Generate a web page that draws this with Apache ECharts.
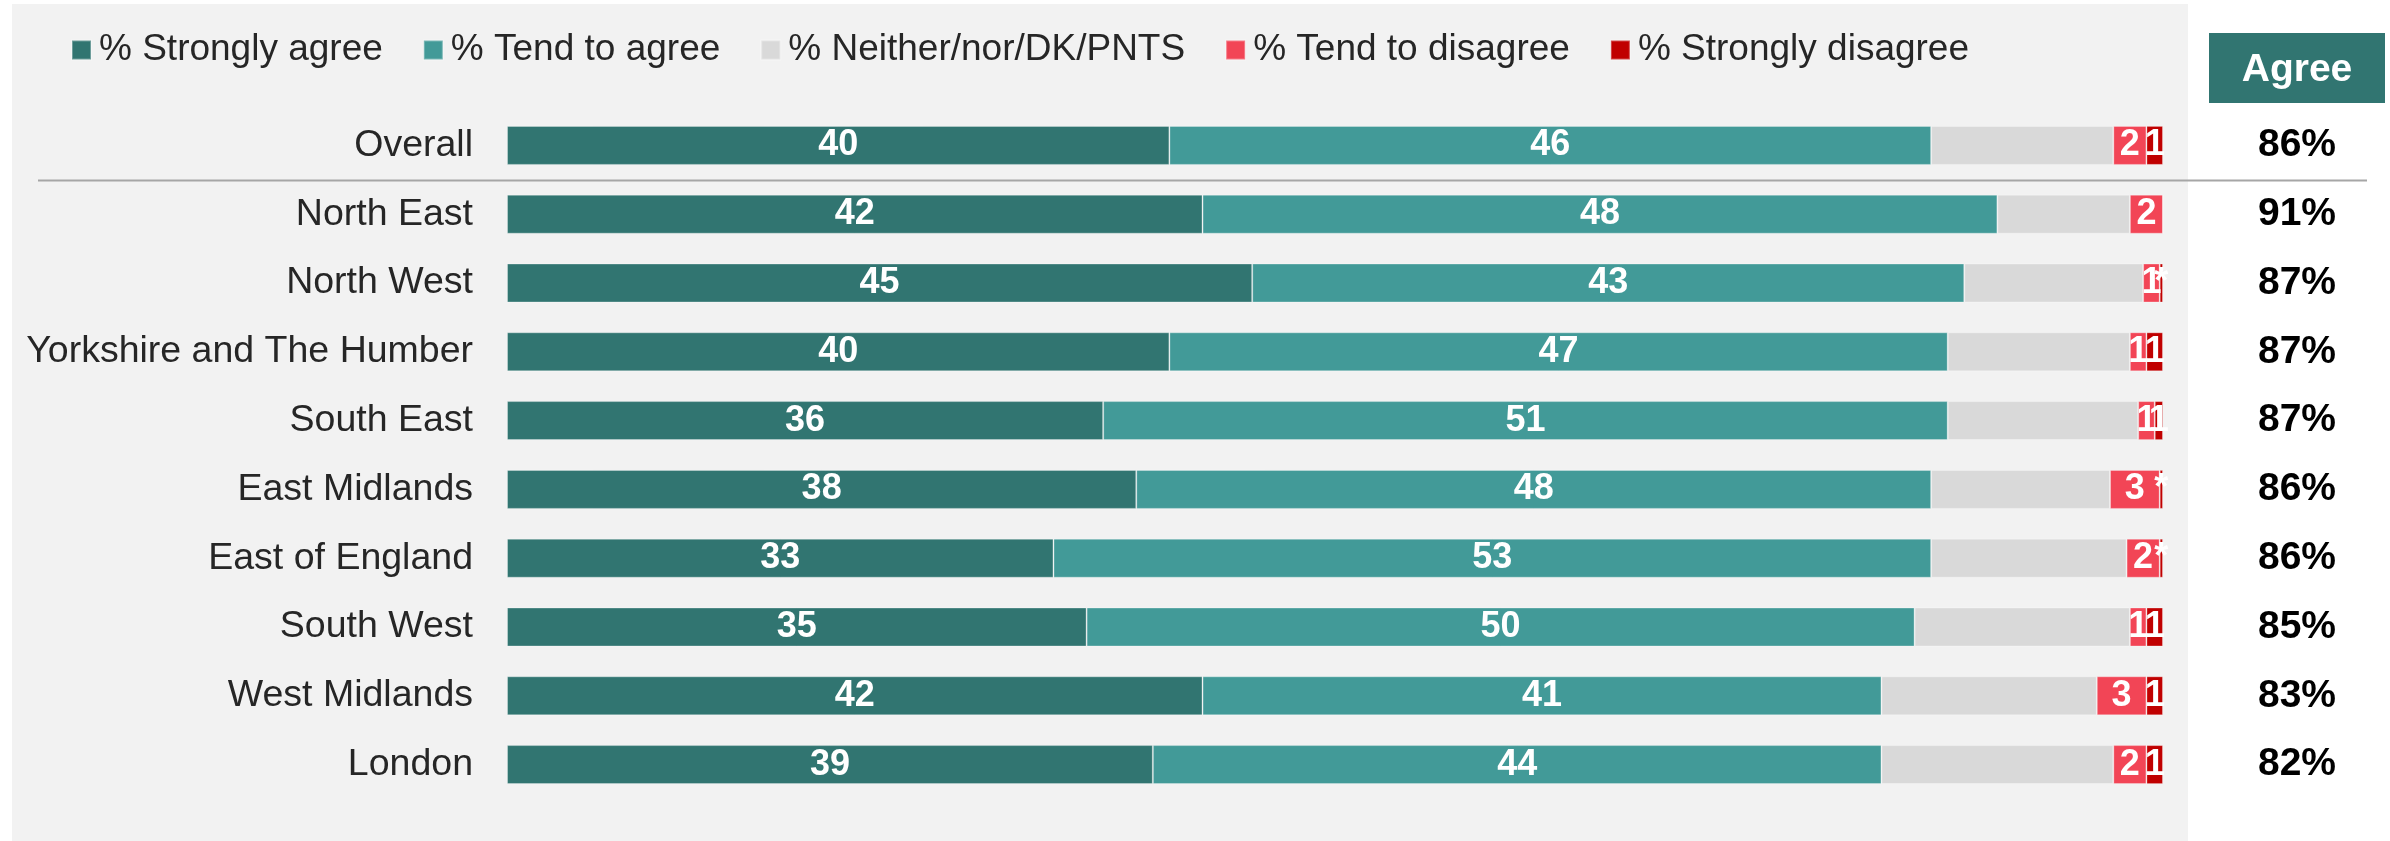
<!DOCTYPE html>
<html>
<head>
<meta charset="utf-8">
<title>Agreement by region</title>
<script src="https://cdn.jsdelivr.net/npm/echarts@6/dist/echarts.min.js"></script>
<style>
  html, body { margin: 0; padding: 0; background: #fff; }
  #chart { width: 2390px; height: 841px; }
</style>
</head>
<body>
<div id="chart"></div>
<script>
// data
const categories = ["Overall", "North East", "North West", "Yorkshire and The Humber", "South East",
  "East Midlands", "East of England", "South West", "West Midlands", "London"];
const stronglyAgree = [40, 42, 45, 40, 36, 38, 33, 35, 42, 39];
const tendToAgree = [46, 48, 43, 47, 51, 48, 53, 50, 41, 44];
const neither = [11, 8, 10.8, 11, 11.5, 10.8, 11.8, 13, 13, 14];
const tendToDisagree = [2, 2, 1, 1, 1, 3, 2, 1, 3, 2];
// values under 0.5 are shown as "*"
const stronglyDisagree = [1, 0, 0.2, 1, 0.5, 0.2, 0.2, 1, 1, 1];
const agreeTotal = [86, 91, 87, 87, 87, 86, 86, 85, 83, 82];

const seriesNames = ["% Strongly agree", "% Tend to agree", "% Neither/nor/DK/PNTS", "% Tend to disagree", "% Strongly disagree"];
const colors = ["#317571", "#429a98", "#d9d9d9", "#f24556", "#c00000"];
const FONT = "'Liberation Sans', Arial, sans-serif";

const chart = echarts.init(document.getElementById("chart"));

function barLabel(show) {
  return {
    show: show,
    position: "inside",
    offset: [0, 2],
    overflow: "none",
    color: "#fff",
    fontFamily: FONT,
    fontSize: 36,
    fontWeight: "bold",
    formatter: function (p) {
      const v = p.value;
      if (!v) return "";
      if (v < 0.5) return "*";
      return Math.round(v);
    }
  };
}

const seriesData = [stronglyAgree, tendToAgree, neither, tendToDisagree, stronglyDisagree];
const series = seriesData.map(function (d, i) {
  return {
    name: seriesNames[i],
    type: "bar",
    stack: "total",
    barWidth: 39,
    data: d,
    itemStyle: { color: colors[i], borderColor: "rgba(255,255,255,0.3)", borderWidth: 1 },
    label: barLabel(i !== 2),
    labelLayout: { hideOverlap: false },
    emphasis: { disabled: true }
  };
});

const option = {
  backgroundColor: "#fff",
  animation: false,
  textStyle: { fontFamily: FONT },
  legend: {
    data: seriesNames,
    left: 71,
    top: 30,
    padding: 0,
    itemWidth: 19,
    itemHeight: 19,
    itemGap: 40,
    icon: "rect",
    textStyle: { fontFamily: FONT, fontSize: 37, color: "#262626", lineHeight: 40, padding: [0, 0, 0, 3] }
  },
  grid: { left: 507, right: 227, top: 111, bottom: 42, containLabel: false },
  xAxis: { type: "value", min: 0, max: 100, show: false },
  yAxis: [
    {
      type: "category",
      data: categories,
      inverse: true,
      axisLine: { show: false },
      axisTick: { show: false },
      axisLabel: { fontFamily: FONT, fontSize: 37.5, color: "#262626", margin: 34, padding: [5, 0, 0, 0] }
    },
    {
      type: "category",
      position: "right",
      data: agreeTotal,
      inverse: true,
      axisLine: { show: false },
      axisTick: { show: false },
      axisLabel: {
        fontFamily: FONT, fontSize: 39, fontWeight: "bold", color: "#000",
        align: "center", margin: 134, padding: [0, 0, 4, 0],
        formatter: function (v) { return v + "%"; }
      }
    }
  ],
  series: series
};

chart.setOption(option);

// panel, header box and the rule under "Overall"
const y0 = chart.convertToPixel({ yAxisIndex: 0 }, categories[0]);
const y1 = chart.convertToPixel({ yAxisIndex: 0 }, categories[1]);
const ruleY = Math.round((y0 + y1) / 2) + 0.5;

chart.setOption({
  graphic: [
    { type: "rect", z: -10, silent: true, shape: { x: 12, y: 4, width: 2176, height: 837 }, style: { fill: "#f2f2f2" } },
    { type: "rect", z: 10, silent: true, shape: { x: 2209, y: 33, width: 176, height: 70 }, style: { fill: "#317571" } },
    {
      type: "text", z: 11, silent: true, x: 2297, y: 70,
      style: { text: "Agree", fill: "#fff", font: "bold 39px " + FONT, align: "center", verticalAlign: "middle" }
    },
    { type: "line", z: 10, silent: true, shape: { x1: 38, y1: ruleY, x2: 2367, y2: ruleY }, style: { stroke: "#a6a6a6", lineWidth: 2 } }
  ]
});
</script>
</body>
</html>
